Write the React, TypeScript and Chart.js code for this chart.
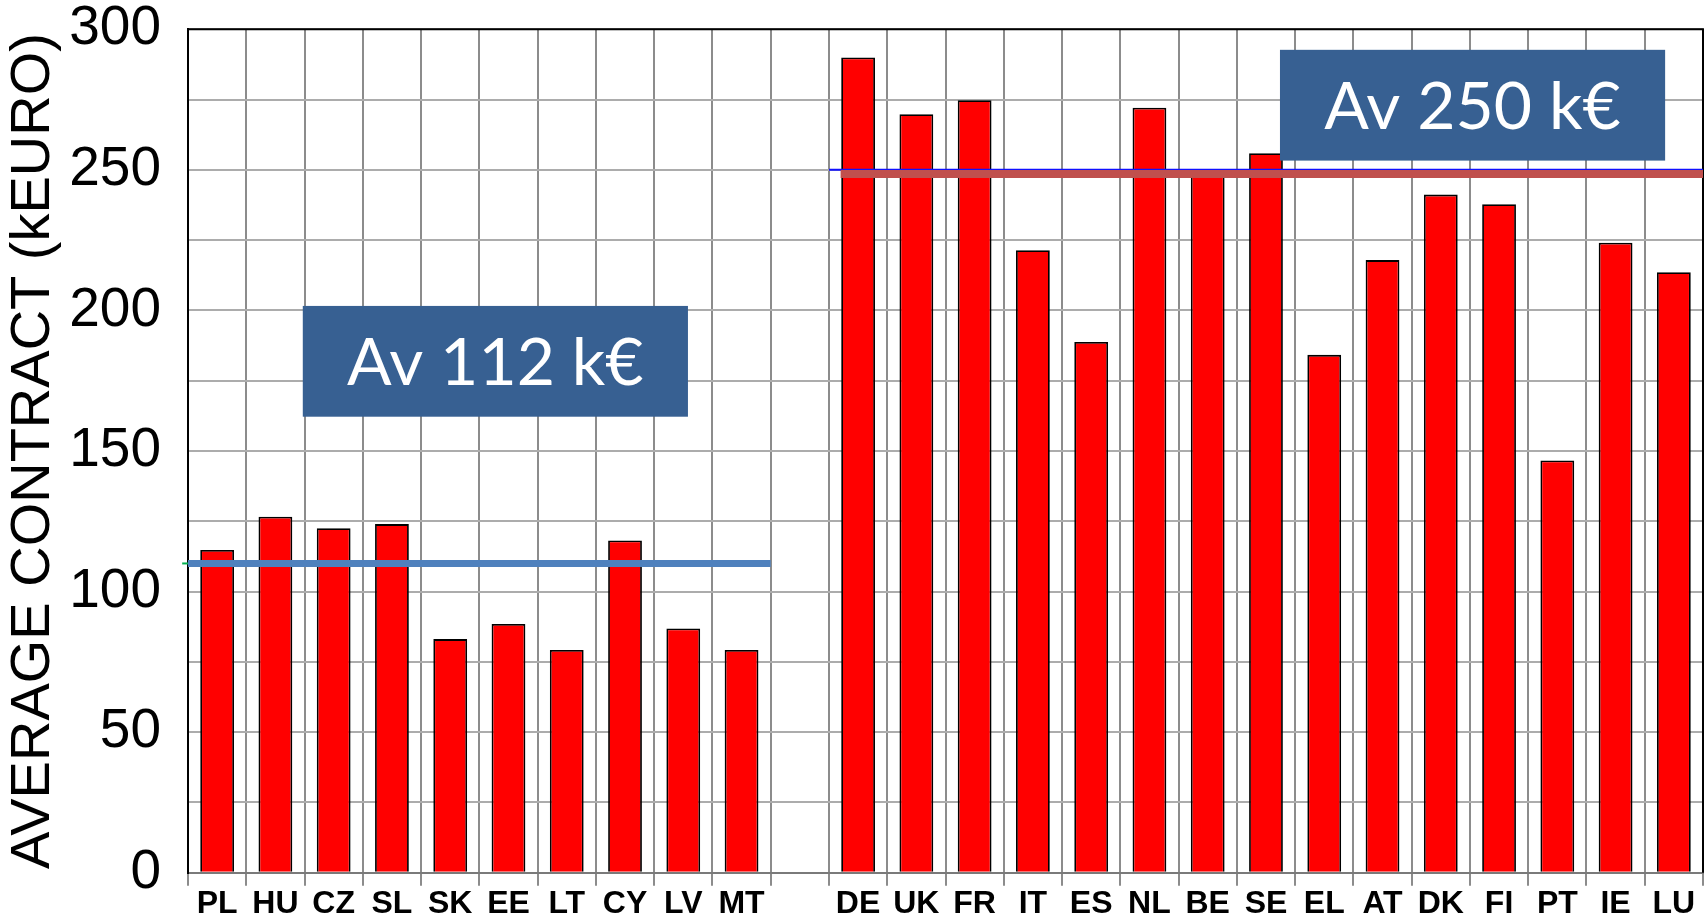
import React, { useEffect, useRef } from "react";
import { Chart, registerables } from "chart.js";

Chart.register(...registerables);

// ---- data ----
const categories = [
  "PL", "HU", "CZ", "SL", "SK", "EE", "LT", "CY", "LV", "MT",
  "",
  "DE", "UK", "FR", "IT", "ES", "NL", "BE", "SE", "EL", "AT", "DK", "FI", "PT", "IE", "LU",
];
const contractValues = [
  114.8, 126.6, 122.5, 124.0, 83.1, 88.5, 79.2, 118.2, 86.9, 79.2,
  null,
  290.0, 269.8, 274.8, 221.4, 188.8, 272.1, 249.0, 255.9, 184.2, 217.9, 241.2, 237.8, 146.6, 224.1, 213.6,
];
const yAxisTitle = "AVERAGE CONTRACT (kEURO)";
const yMin = 0;
const yMax = 300;
const yGridStep = 25;
const yLabelStep = 50;

// average lines (value in kEUR, span in category units)
const avgValues = [110, 248.5];
const avgFrom = [0, 11.2];
const avgTo = [10, 26];
// thin reference marks under the average lines
const refValues = [110, 250];
const refFrom = [-0.1, 11];
const refTo = [0.03, 26];

// annotation boxes
const boxTexts = ["Av 112 k€", "Av 250 k€"];
const boxFrom = [1.97, 18.74];
const boxTo = [8.58, 25.35];
const boxTopValue = [201.6, 292.7];
const boxBottomValue = [162.2, 253.3];

// ---- styles ----
const AVG_COLORS = ["#4F81BD", "#C0504D"];
const AVG_WIDTHS = [7, 8];
const REF_COLORS = ["#00B050", "#1010FF"];
const BOX_COLOR = "#376092";
const FONT = "'Liberation Sans', Arial, sans-serif";

const overlayPlugin = {
  id: "overlay",
  beforeDatasetsDraw(chart: any) {
    const { ctx, chartArea: a } = chart;
    ctx.save();
    ctx.strokeStyle = "#000";
    ctx.lineWidth = 2;
    ctx.beginPath();
    ctx.moveTo(a.left, a.top);
    ctx.lineTo(a.right, a.top);
    ctx.lineTo(a.right, a.bottom);
    ctx.stroke();
    ctx.restore();
  },
  afterDatasetsDraw(chart: any) {
    const { ctx } = chart;
    const xs = chart.scales.x;
    const ys = chart.scales.y;
    const x0 = xs.getPixelForValue(0);
    const step = xs.getPixelForValue(1) - x0;
    const xAt = (f: number) => x0 - step / 2 + f * step;

    ctx.save();
    for (let i = 0; i < refValues.length; i++) {
      const y = ys.getPixelForValue(refValues[i]);
      ctx.strokeStyle = REF_COLORS[i];
      ctx.lineWidth = 2;
      ctx.beginPath();
      ctx.moveTo(xAt(refFrom[i]), y);
      ctx.lineTo(xAt(refTo[i]), y);
      ctx.stroke();
    }
    for (let i = 0; i < avgValues.length; i++) {
      const y = ys.getPixelForValue(avgValues[i]);
      ctx.strokeStyle = AVG_COLORS[i];
      ctx.lineWidth = AVG_WIDTHS[i];
      ctx.beginPath();
      ctx.moveTo(xAt(avgFrom[i]), y);
      ctx.lineTo(xAt(avgTo[i]), y);
      ctx.stroke();
    }
    for (let i = 0; i < boxTexts.length; i++) {
      const l = xAt(boxFrom[i]);
      const r = xAt(boxTo[i]);
      const t = ys.getPixelForValue(boxTopValue[i]);
      const b = ys.getPixelForValue(boxBottomValue[i]);
      ctx.fillStyle = BOX_COLOR;
      ctx.fillRect(l, t, r - l, b - t);
      ctx.font = "66px Lato, 'Open Sans', sans-serif";
      ctx.fillStyle = "#ffffff";
      ctx.textAlign = "center";
      ctx.textBaseline = "alphabetic";
      const cap = ctx.measureText("A").actualBoundingBoxAscent;
      ctx.fillText(boxTexts[i], (l + r) / 2, (t + b) / 2 + cap / 2);
    }
    ctx.restore();
  },
};

export default function App() {
  const canvasRef = useRef<HTMLCanvasElement | null>(null);

  useEffect(() => {
    if (!canvasRef.current) return;
    const chart = new Chart(canvasRef.current, {
      type: "bar",
      data: {
        labels: categories,
        datasets: [
          {
            data: contractValues as any,
            backgroundColor: "#FF0000",
            borderColor: "#000000",
            borderWidth: 1.8,
            barPercentage: 0.58,
            categoryPercentage: 1,
          },
        ],
      },
      options: {
        animation: false,
        responsive: false,
        devicePixelRatio: 1,
        layout: { padding: { left: 0, right: 4, top: 29.3, bottom: 0 } },
        plugins: {
          legend: { display: false },
          tooltip: { enabled: false },
          title: { display: false },
        },
        scales: {
          x: {
            offset: true,
            grid: {
              offset: true,
              color: "#8c8c8c",
              lineWidth: 2,
              drawTicks: true,
              tickLength: 13,
            },
            border: { display: true, color: "#7a7a7a", width: 2 },
            ticks: {
              autoSkip: false,
              maxRotation: 0,
              minRotation: 0,
              padding: 1,
              color: "#000",
              font: { family: FONT, size: 32, weight: "bold", lineHeight: 1.1 },
            },
            afterFit: (s: any) => {
              s.height = 47.3;
            },
          },
          y: {
            min: yMin,
            max: yMax,
            grid: {
              color: "#acacac",
              lineWidth: 2,
              drawTicks: true,
              tickLength: 27,
              tickColor: "rgba(0,0,0,0)",
            },
            border: { display: true, color: "#000", width: 2 },
            ticks: {
              stepSize: yGridStep,
              padding: 0,
              color: "#000",
              font: { family: FONT, size: 55, lineHeight: 1.0 },
              callback: (v: any) => (Number(v) % yLabelStep === 0 ? String(v) : ""),
            },
            title: {
              display: true,
              text: yAxisTitle,
              color: "#000",
              font: { family: FONT, size: 56 },
              padding: { top: 0, bottom: 0 },
            },
            afterFit: (s: any) => {
              s.width = 188;
            },
          },
        },
      },
      plugins: [overlayPlugin],
    });
    return () => chart.destroy();
  }, []);

  return (
    <div style={{ position: "fixed", left: 0, top: 0, width: 1707, height: 920, background: "#fff" }}>
      <canvas ref={canvasRef} width={1707} height={920} style={{ width: 1707, height: 920, display: "block" }} />
    </div>
  );
}
